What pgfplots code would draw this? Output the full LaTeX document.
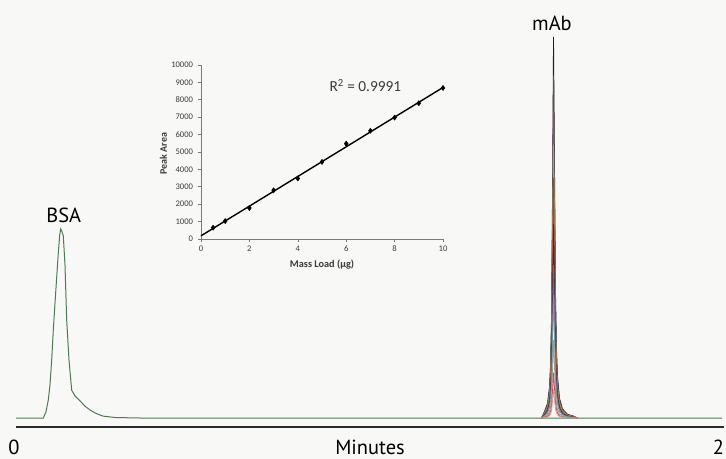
\documentclass[border=0pt]{standalone}
\usepackage{fontspec}
\setmainfont{Carlito}
\newfontfamily\labelfont{PT Sans}
\usepackage{pgfplots}
\pgfplotsset{compat=1.18}
\usepackage{pgfplotstable}

\definecolor{bg}{HTML}{F8F8F6}
\definecolor{trace}{HTML}{4E7A52}
\definecolor{axisdark}{HTML}{2A2A2A}
\definecolor{insetgray}{HTML}{7A7A7A}
\definecolor{ticktext}{HTML}{3A3A3A}
\definecolor{ca}{HTML}{1E1E1E}
\definecolor{cb}{HTML}{6E3F72}
\definecolor{cc}{HTML}{4E7A52}
\definecolor{cd}{HTML}{C09A6B}
\definecolor{ce}{HTML}{A8453A}
\definecolor{cf}{HTML}{303030}
\definecolor{cg}{HTML}{8A5A8E}
\definecolor{ch}{HTML}{6FA3A0}
\definecolor{ci}{HTML}{9A9A9A}
\definecolor{cj}{HTML}{C0504D}
\definecolor{ck}{HTML}{E09A90}

% BSA trace and baseline (minutes, absorbance in arbitrary units)
\pgfplotstableread{
x y
0.0000 0
0.0771 0
0.0847 1.6
0.0912 4.7
0.0960 8.7
0.1008 15.2
0.1054 23.1
0.1102 30.2
0.1150 37.0
0.1195 43.3
0.1234 48.0
0.1263 49.6
0.1291 49.1
0.1336 47.8
0.1384 40.2
0.1432 25.7
0.1497 15.2
0.1573 7.3
0.1667 5.8
0.1808 4.5
0.1949 3.1
0.2090 2.1
0.2260 1.2
0.2458 0.5
0.2797 0.13
0.3503 0
1.9940 0
}\bsa

% mAb peaks, one column per mass load (10 ug down to 0.5 ug)
\pgfplotstableread{
x a b c d e f g h i j k
1.4845 0 0 0 0 0 0 0 0 0 0 0
1.4930 1.75 1.57 1.41 1.25 1.10 0.89 0.70 0.57 0.36 0.21 0.13
1.5015 3.85 3.46 3.10 2.76 2.43 1.96 1.54 1.24 0.79 0.46 0.29
1.5071 8.26 7.43 6.64 5.92 5.21 4.21 3.31 2.67 1.69 0.98 0.62
1.5099 13.8 12.41 11.10 9.89 8.71 7.04 5.53 4.46 2.83 1.64 1.04
1.5128 26.5 23.82 21.31 19.00 16.72 13.52 10.63 8.56 5.43 3.15 1.99
1.5156 59.0 53.04 47.44 42.30 37.23 30.09 23.66 19.06 12.10 7.02 4.43
1.5184 100 89.9 80.4 71.7 63.1 51.0 40.1 32.3 20.5 11.9 7.5
1.5212 66.2 59.51 53.22 47.47 41.77 33.76 26.55 21.38 13.57 7.88 4.97
1.5240 32.9 29.58 26.45 23.59 20.76 16.78 13.19 10.63 6.74 3.92 2.47
1.5269 17.9 16.09 14.39 12.83 11.29 9.13 7.18 5.78 3.67 2.13 1.34
1.5297 10.9 9.80 8.76 7.82 6.88 5.56 4.37 3.52 2.23 1.30 0.82
1.5353 5.16 4.64 4.15 3.70 3.26 2.63 2.07 1.67 1.06 0.61 0.39
1.5438 2.36 2.12 1.90 1.69 1.49 1.20 0.95 0.76 0.48 0.28 0.18
1.5579 0.99 0.89 0.80 0.71 0.62 0.50 0.40 0.32 0.20 0.12 0.07
1.5749 0.49 0.44 0.39 0.35 0.31 0.25 0.20 0.16 0.10 0.06 0.04
1.5862 0 0 0 0 0 0 0 0 0 0 0
}\mab

\begin{document}
\begin{tikzpicture}
\fill[bg] (0,0) rectangle (726bp,459bp);
\useasboundingbox (0,0) rectangle (726bp,459bp);

\begin{axis}[
    at={(16bp,32bp)}, anchor=south west,
    width=708bp, height=427bp, scale only axis,
    xmin=0, xmax=2, ymin=-2.36, ymax=109.7,
    axis x line*=bottom, axis y line=none,
    xtick=\empty, ytick=\empty,
    axis line style={axisdark, line width=2.2bp},
    clip=false,
]
\addplot[trace, line width=1bp] table {\bsa};
\addplot[ca, line width=0.8bp] table[x=x, y=a] {\mab};
\addplot[cb, line width=0.8bp] table[x=x, y=b] {\mab};
\addplot[cc, line width=0.8bp] table[x=x, y=c] {\mab};
\addplot[cd, line width=0.8bp] table[x=x, y=d] {\mab};
\addplot[ce, line width=0.8bp] table[x=x, y=e] {\mab};
\addplot[cf, line width=0.8bp] table[x=x, y=f] {\mab};
\addplot[cg, line width=0.8bp] table[x=x, y=g] {\mab};
\addplot[ch, line width=0.8bp] table[x=x, y=h] {\mab};
\addplot[ci, line width=0.8bp] table[x=x, y=i] {\mab};
\addplot[cj, line width=0.8bp] table[x=x, y=j] {\mab};
\addplot[ck, line width=0.8bp] table[x=x, y=k] {\mab};

\node[anchor=base, font=\labelfont\fontsize{20.5}{24}\selectfont] at (axis cs:0.1347,51.3) {BSA};
\node[anchor=base, font=\labelfont\fontsize{20.5}{24}\selectfont] at (axis cs:1.514,101.6) {mAb};
\end{axis}

\node[anchor=base, inner sep=0pt, font=\labelfont\fontsize{20.5}{24}\selectfont] at (14bp,5bp) {0};
\node[anchor=base, inner sep=0pt, font=\labelfont\fontsize{20.5}{24}\selectfont] at (370bp,5bp) {Minutes};
\node[anchor=base, inner sep=0pt, font=\labelfont\fontsize{20.5}{24}\selectfont] at (718.5bp,5bp) {2};

\begin{axis}[
    at={(201bp,220bp)}, anchor=south west,
    width=242bp, height=174bp, scale only axis,
    xmin=0, xmax=10, ymin=0, ymax=10000,
    axis x line*=bottom, axis y line*=left,
    xtick={0,2,...,10}, ytick={0,1000,...,10000},
    tick align=outside, major tick length=3bp,
    tick style={insetgray, line width=0.6bp},
    axis line style={insetgray, line width=0.8bp},
    scaled y ticks=false,
    /pgf/number format/1000 sep={},
    /pgf/number format/assume math mode=true,
    tick label style={font=\fontsize{8.6}{10}\selectfont, color=ticktext},
    yticklabel style={xshift=-1.5bp},
    xticklabel style={yshift=-0.5bp},
    clip=false,
]
\addplot[black, line width=1.4bp] coordinates {(0,182) (10,8710)};
\addplot[only marks, mark=diamond*, mark size=2.6bp, black] coordinates {
    (0.5,650) (1,1030) (2,1780) (3,2800) (4,3480) (5,4430)
    (6,5480) (7,6220) (8,6980) (9,7800) (10,8680)
};
\end{axis}

\node[rotate=90, font=\fontsize{10}{12}\selectfont\bfseries, color=ticktext] at (163.5bp,305.5bp) {Peak Area};
\node[font=\fontsize{10.3}{12}\selectfont\bfseries, color=ticktext] at (322bp,194bp) {Mass Load (µg)};
\node[anchor=base west, font=\fontsize{15.4}{18}\selectfont, color=ticktext] at (326bp,367bp) {R\textsuperscript{2} = 0.9991};
\end{tikzpicture}
\end{document}
